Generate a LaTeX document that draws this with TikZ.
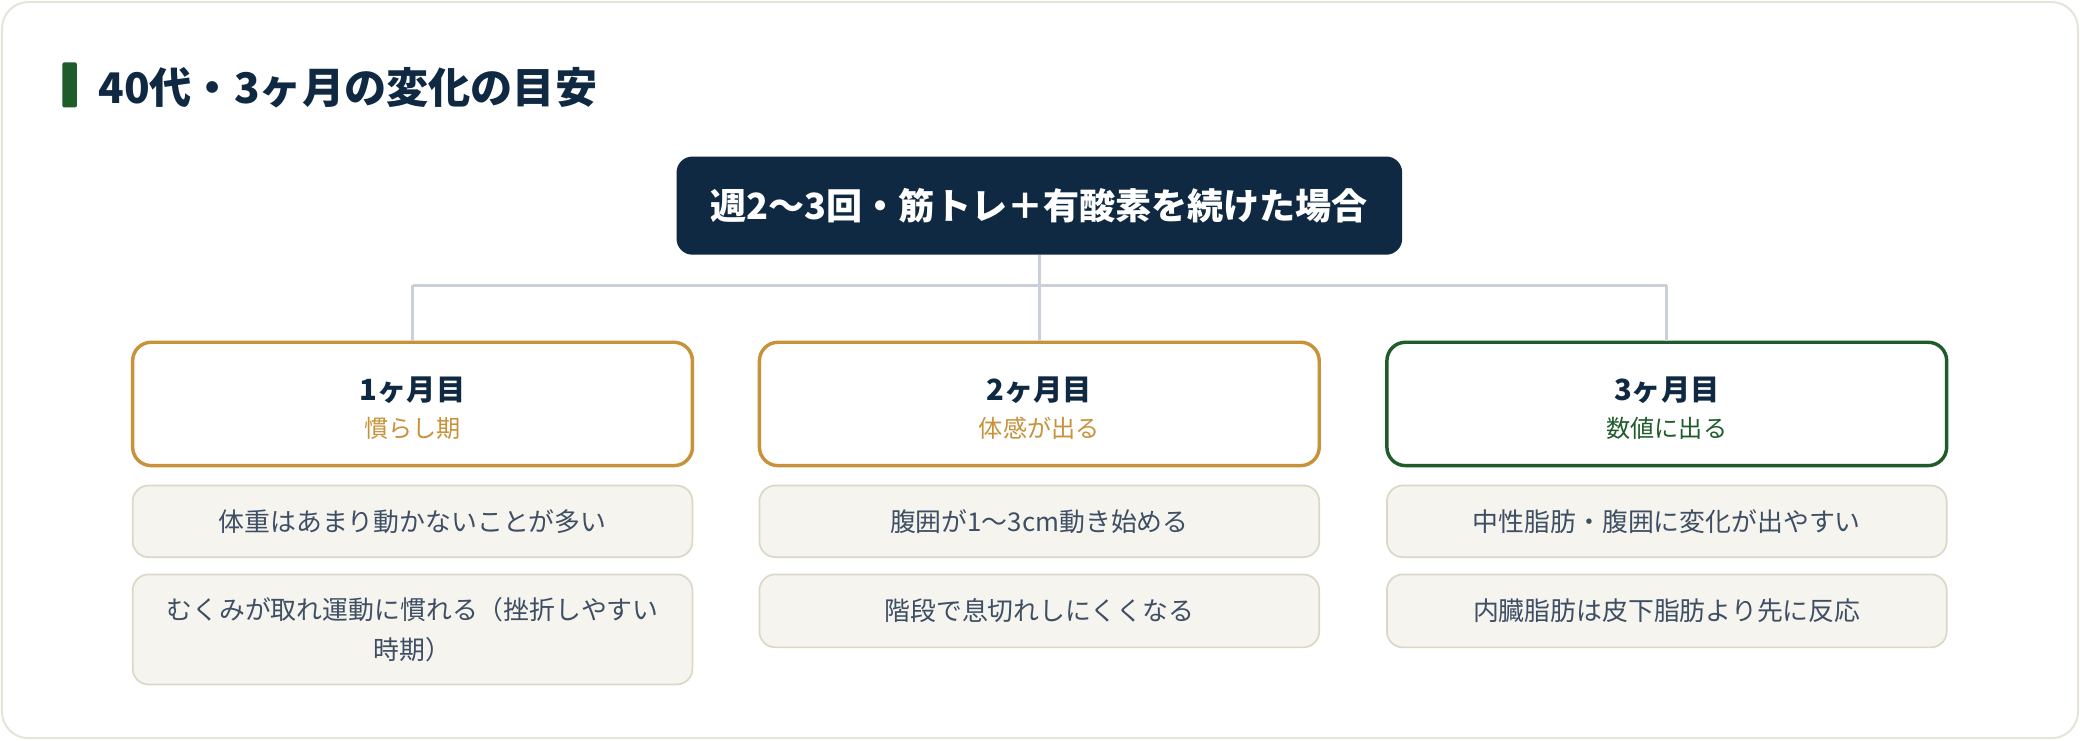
\documentclass[tikz,border=0pt]{standalone}
\usepackage{fontspec}
\setmainfont{Noto Sans CJK JP}
\definecolor{navy}{HTML}{0F2942}
\definecolor{gold}{HTML}{C8923A}
\definecolor{leaf}{HTML}{1E5C2A}
\definecolor{cardline}{HTML}{E6E3D8}
\definecolor{linkc}{HTML}{C9D0DA}
\definecolor{itemfill}{HTML}{F5F4EF}
\definecolor{itemline}{HTML}{DCD8C8}
\definecolor{itemtext}{HTML}{3F4F63}
\tikzset{
  topbox/.style={fill=navy, rounded corners=12pt, minimum width=547pt, minimum height=74pt, inner sep=0pt,
    text=white, font=\fontsize{27.2}{32}\selectfont\bfseries},
  monthbox/.style={draw=#1, line width=2.6pt, fill=white, rounded corners=14pt, minimum width=422pt, minimum height=93pt, inner sep=0pt},
  monthtitle/.style={text=navy, font=\fontsize{22}{26}\selectfont\bfseries, inner sep=0pt},
  monthsub/.style={text=#1, font=\fontsize{18.2}{22}\selectfont, inner sep=0pt},
  itembox/.style={draw=itemline, line width=1.3pt, fill=itemfill, rounded corners=12pt, minimum width=422pt,
    minimum height=#1, inner sep=0pt, text=itemtext, align=center, font=\fontsize{19.5}{30}\selectfont},
  link/.style={draw=linkc, line width=2.4pt}
}
\begin{document}
\begin{tikzpicture}[x=1pt,y=-1pt]
\useasboundingbox (0,0) rectangle (1568,558);
\draw[cardline, line width=1.5pt, fill=white, rounded corners=20pt] (1.5,1.5) rectangle (1566.5,556.5);
\fill[leaf, rounded corners=1.5pt] (47,47) rectangle (58,81);
\node[anchor=west, text=navy, font=\fontsize{31.8}{36}\selectfont\bfseries, inner sep=0pt] (title) at (74,66) {40代・3ヶ月の変化の目安};

\node[topbox] (top) at (783.5,155) {週2〜3回・筋トレ＋有酸素を続けた場合};

\node[monthbox=gold] (m1) at (311,304.5) {};
\node[monthbox=gold] (m2) at (783.5,304.5) {};
\node[monthbox=leaf] (m3) at (1256.5,304.5) {};

\coordinate (j) at (783.5,215);
\coordinate (jl) at (311,215);
\coordinate (jr) at (1256.5,215);
\draw[link] (top.south) -- (j);
\draw[link] (jl) -- (jr);
\draw[link] (jl) -- (m1.north);
\draw[link] (j) -- (m2.north);
\draw[link] (jr) -- (m3.north);

\node[monthtitle] (t1) at (311,294) {1ヶ月目};
\node[monthsub=gold] (s1) at (311,323) {慣らし期};
\node[monthtitle] (t2) at (783.5,294) {2ヶ月目};
\node[monthsub=gold] (s2) at (783.5,323) {体感が出る};
\node[monthtitle] (t3) at (1256.5,294) {3ヶ月目};
\node[monthsub=leaf] (s3) at (1256.5,323) {数値に出る};

\node[itembox=54pt] (a1) at (311,393) {体重はあまり動かないことが多い};
\node[itembox=83pt] (b1) at (311,474.5) {むくみが取れ運動に慣れる（挫折しやすい\\時期）};
\node[itembox=54pt] (a2) at (783.5,393) {腹囲が1〜3cm動き始める};
\node[itembox=55pt] (b2) at (783.5,460.5) {階段で息切れしにくくなる};
\node[itembox=54pt] (a3) at (1256.5,393) {中性脂肪・腹囲に変化が出やすい};
\node[itembox=55pt] (b3) at (1256.5,460.5) {内臓脂肪は皮下脂肪より先に反応};
\end{tikzpicture}
\end{document}
